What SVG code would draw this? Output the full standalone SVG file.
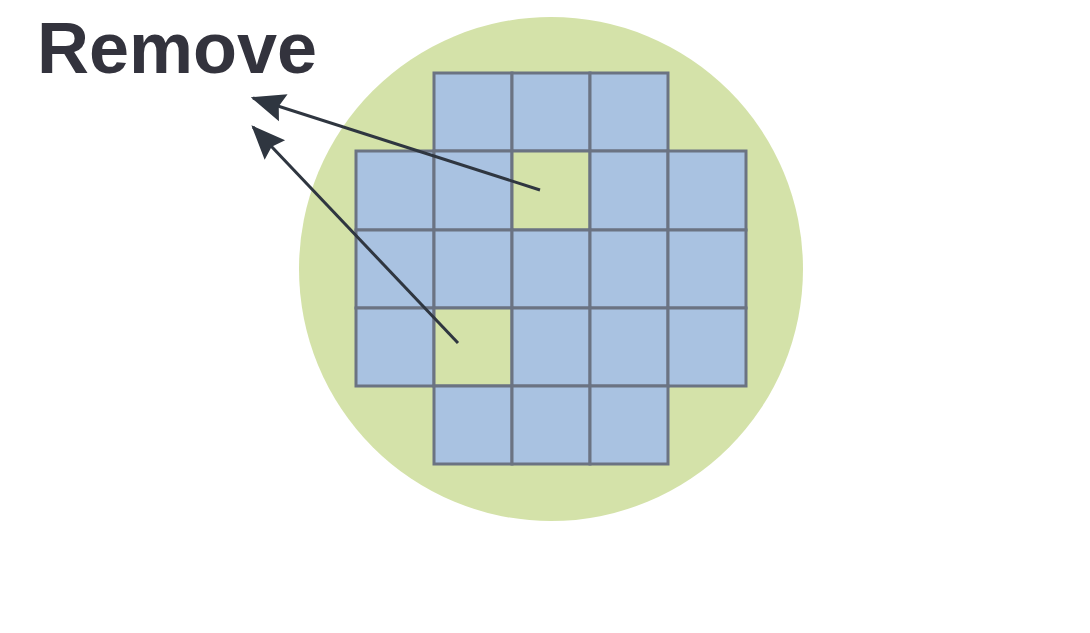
<svg xmlns="http://www.w3.org/2000/svg" width="1090" height="633" viewBox="0 0 1090 633">
<style>
.cell{fill:#a9c2e1;stroke:#6b7382;stroke-width:3}
.hole{fill:#d4e2a9;stroke:#6b7382;stroke-width:3}
.conn{fill:none;stroke:#2f3640;stroke-width:3}
.label{font-family:"Liberation Sans",Arial,sans-serif;font-weight:bold;font-size:72px;fill:#33333d}
</style>
<defs>
<marker id="arrow" markerUnits="userSpaceOnUse" markerWidth="40" markerHeight="40" viewBox="-30 -15 34 30" refX="0" refY="0" orient="auto">
<path d="M2,0 L-27,-12 L-23,0 L-27,12 Z" fill="#2f3640"/>
</marker>
</defs>
<rect width="1090" height="633" fill="#ffffff"/>
<g id="wafer">
<circle cx="551" cy="269" r="252" fill="#d4e2a9"/>
</g>
<g id="grid">
<rect class="cell" x="434" y="73" width="78" height="78"/>
<rect class="cell" x="512" y="73" width="78" height="78"/>
<rect class="cell" x="590" y="73" width="78" height="78"/>
<rect class="cell" x="356" y="151" width="78" height="79"/>
<rect class="cell" x="434" y="151" width="78" height="79"/>
<rect class="hole" x="512" y="151" width="78" height="79"/>
<rect class="cell" x="590" y="151" width="78" height="79"/>
<rect class="cell" x="668" y="151" width="78" height="79"/>
<rect class="cell" x="356" y="230" width="78" height="78"/>
<rect class="cell" x="434" y="230" width="78" height="78"/>
<rect class="cell" x="512" y="230" width="78" height="78"/>
<rect class="cell" x="590" y="230" width="78" height="78"/>
<rect class="cell" x="668" y="230" width="78" height="78"/>
<rect class="cell" x="356" y="308" width="78" height="78"/>
<rect class="hole" x="434" y="308" width="78" height="78"/>
<rect class="cell" x="512" y="308" width="78" height="78"/>
<rect class="cell" x="590" y="308" width="78" height="78"/>
<rect class="cell" x="668" y="308" width="78" height="78"/>
<rect class="cell" x="434" y="386" width="78" height="78"/>
<rect class="cell" x="512" y="386" width="78" height="78"/>
<rect class="cell" x="590" y="386" width="78" height="78"/>
</g>
<g id="label">
<text class="label" x="37" y="73">Remove</text>
</g>
<g id="connectors">
<line class="conn" x1="540" y1="190" x2="253" y2="98" marker-end="url(#arrow)"/>
<line class="conn" x1="458" y1="343" x2="253" y2="127" marker-end="url(#arrow)"/>
</g>
</svg>
